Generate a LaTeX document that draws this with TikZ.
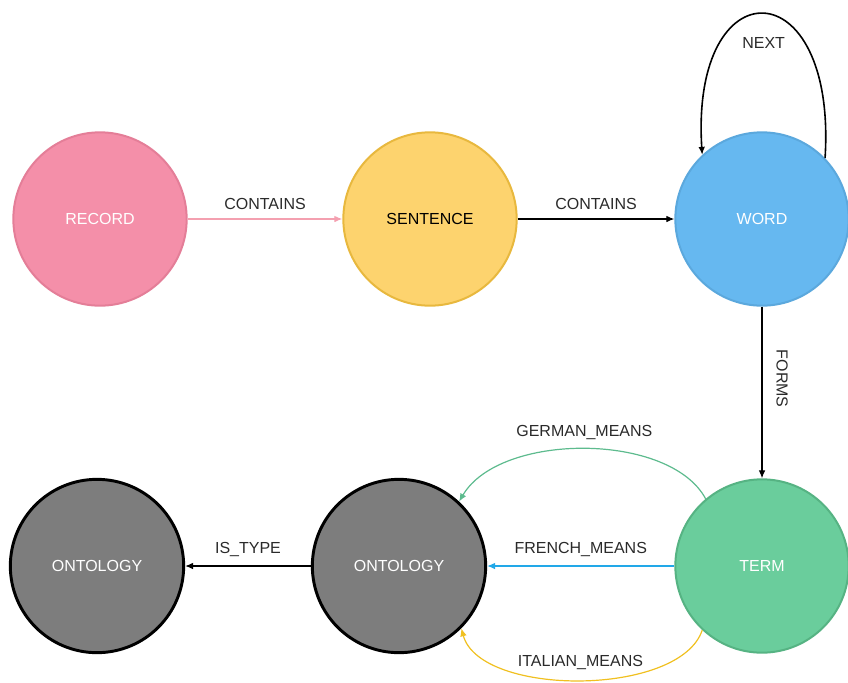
\documentclass[tikz,border=0pt]{standalone}
\usepackage{fontspec}
\setmainfont{Liberation Sans}
\usetikzlibrary{arrows.meta,positioning}

\definecolor{recfill}{HTML}{F48FA9}
\definecolor{recline}{HTML}{E47E98}
\definecolor{senfill}{HTML}{FDD36E}
\definecolor{senline}{HTML}{E8B83E}
\definecolor{wrdfill}{HTML}{66B8F0}
\definecolor{wrdline}{HTML}{5BA8DD}
\definecolor{trmfill}{HTML}{6ACD9C}
\definecolor{trmline}{HTML}{56B383}
\definecolor{ontfill}{HTML}{7D7D7D}
\definecolor{pinkrel}{HTML}{F4A0B0}
\definecolor{greenrel}{HTML}{5DBB8E}
\definecolor{bluerel}{HTML}{22A8E8}
\definecolor{yellowrel}{HTML}{F0C020}
\definecolor{labtext}{HTML}{2A2A2A}

\begin{document}
\begin{tikzpicture}[>={Latex[length=6pt,width=5pt]}, x=0.75pt, y=-0.75pt,
  ent/.style={circle,draw,line width=1.5pt,minimum size=130pt,inner sep=0pt,
    text=white,font=\fontsize{12}{14}\selectfont},
  rel/.style={->,line width=0.9pt,font=\fontsize{12}{14}\selectfont,text=labtext}]
  \useasboundingbox (0,0) rectangle (848,682);

  \node[ent,fill=recfill,draw=recline] (REC) at (100,219) {RECORD};
  \node[ent,fill=senfill,draw=senline,text=black] (SEN) at (430,219) {SENTENCE};
  \node[ent,fill=wrdfill,draw=wrdline] (WRD) at (762,219) {WORD};
  \node[ent,fill=trmfill,draw=trmline] (TRM) at (762,566) {TERM};
  \node[ent,fill=ontfill,draw=black,line width=2.2pt] (ONT) at (399,566) {ONTOLOGY};
  \node[ent,fill=ontfill,draw=black,line width=2.2pt] (ONTB) at (97,566) {ONTOLOGY};

  \draw[rel,draw=pinkrel] (REC) -- (SEN) node[midway,above=3pt] {CONTAINS};
  \draw[rel] (SEN) -- (WRD) node[midway,above=3pt] {CONTAINS};
  \draw[rel,line width=1.2pt] (WRD.44) .. controls +(12,-190) and +(-12,-190) .. (WRD.133)
    node[pos=0.5,below=14pt] {NEXT};
  \draw[rel] (WRD) -- (TRM) node[pos=0.42,xshift=15pt,rotate=-90] {FORMS};
  \draw[rel,draw=greenrel] (TRM.130) .. controls (670,432) and (500,432) .. (ONT.47)
    node[pos=0.5,above=3pt] {GERMAN\_MEANS};
  \draw[rel,draw=bluerel] (TRM) -- (ONT) node[midway,above=3pt] {FRENCH\_MEANS};
  \draw[rel,draw=yellowrel] (TRM.-133) .. controls (680,697) and (480,697) .. (ONT.-45)
    node[pos=0.5,above=4pt] {ITALIAN\_MEANS};
  \draw[rel] (ONT) -- (ONTB) node[midway,above=3pt] {IS\_TYPE};
\end{tikzpicture}
\end{document}
